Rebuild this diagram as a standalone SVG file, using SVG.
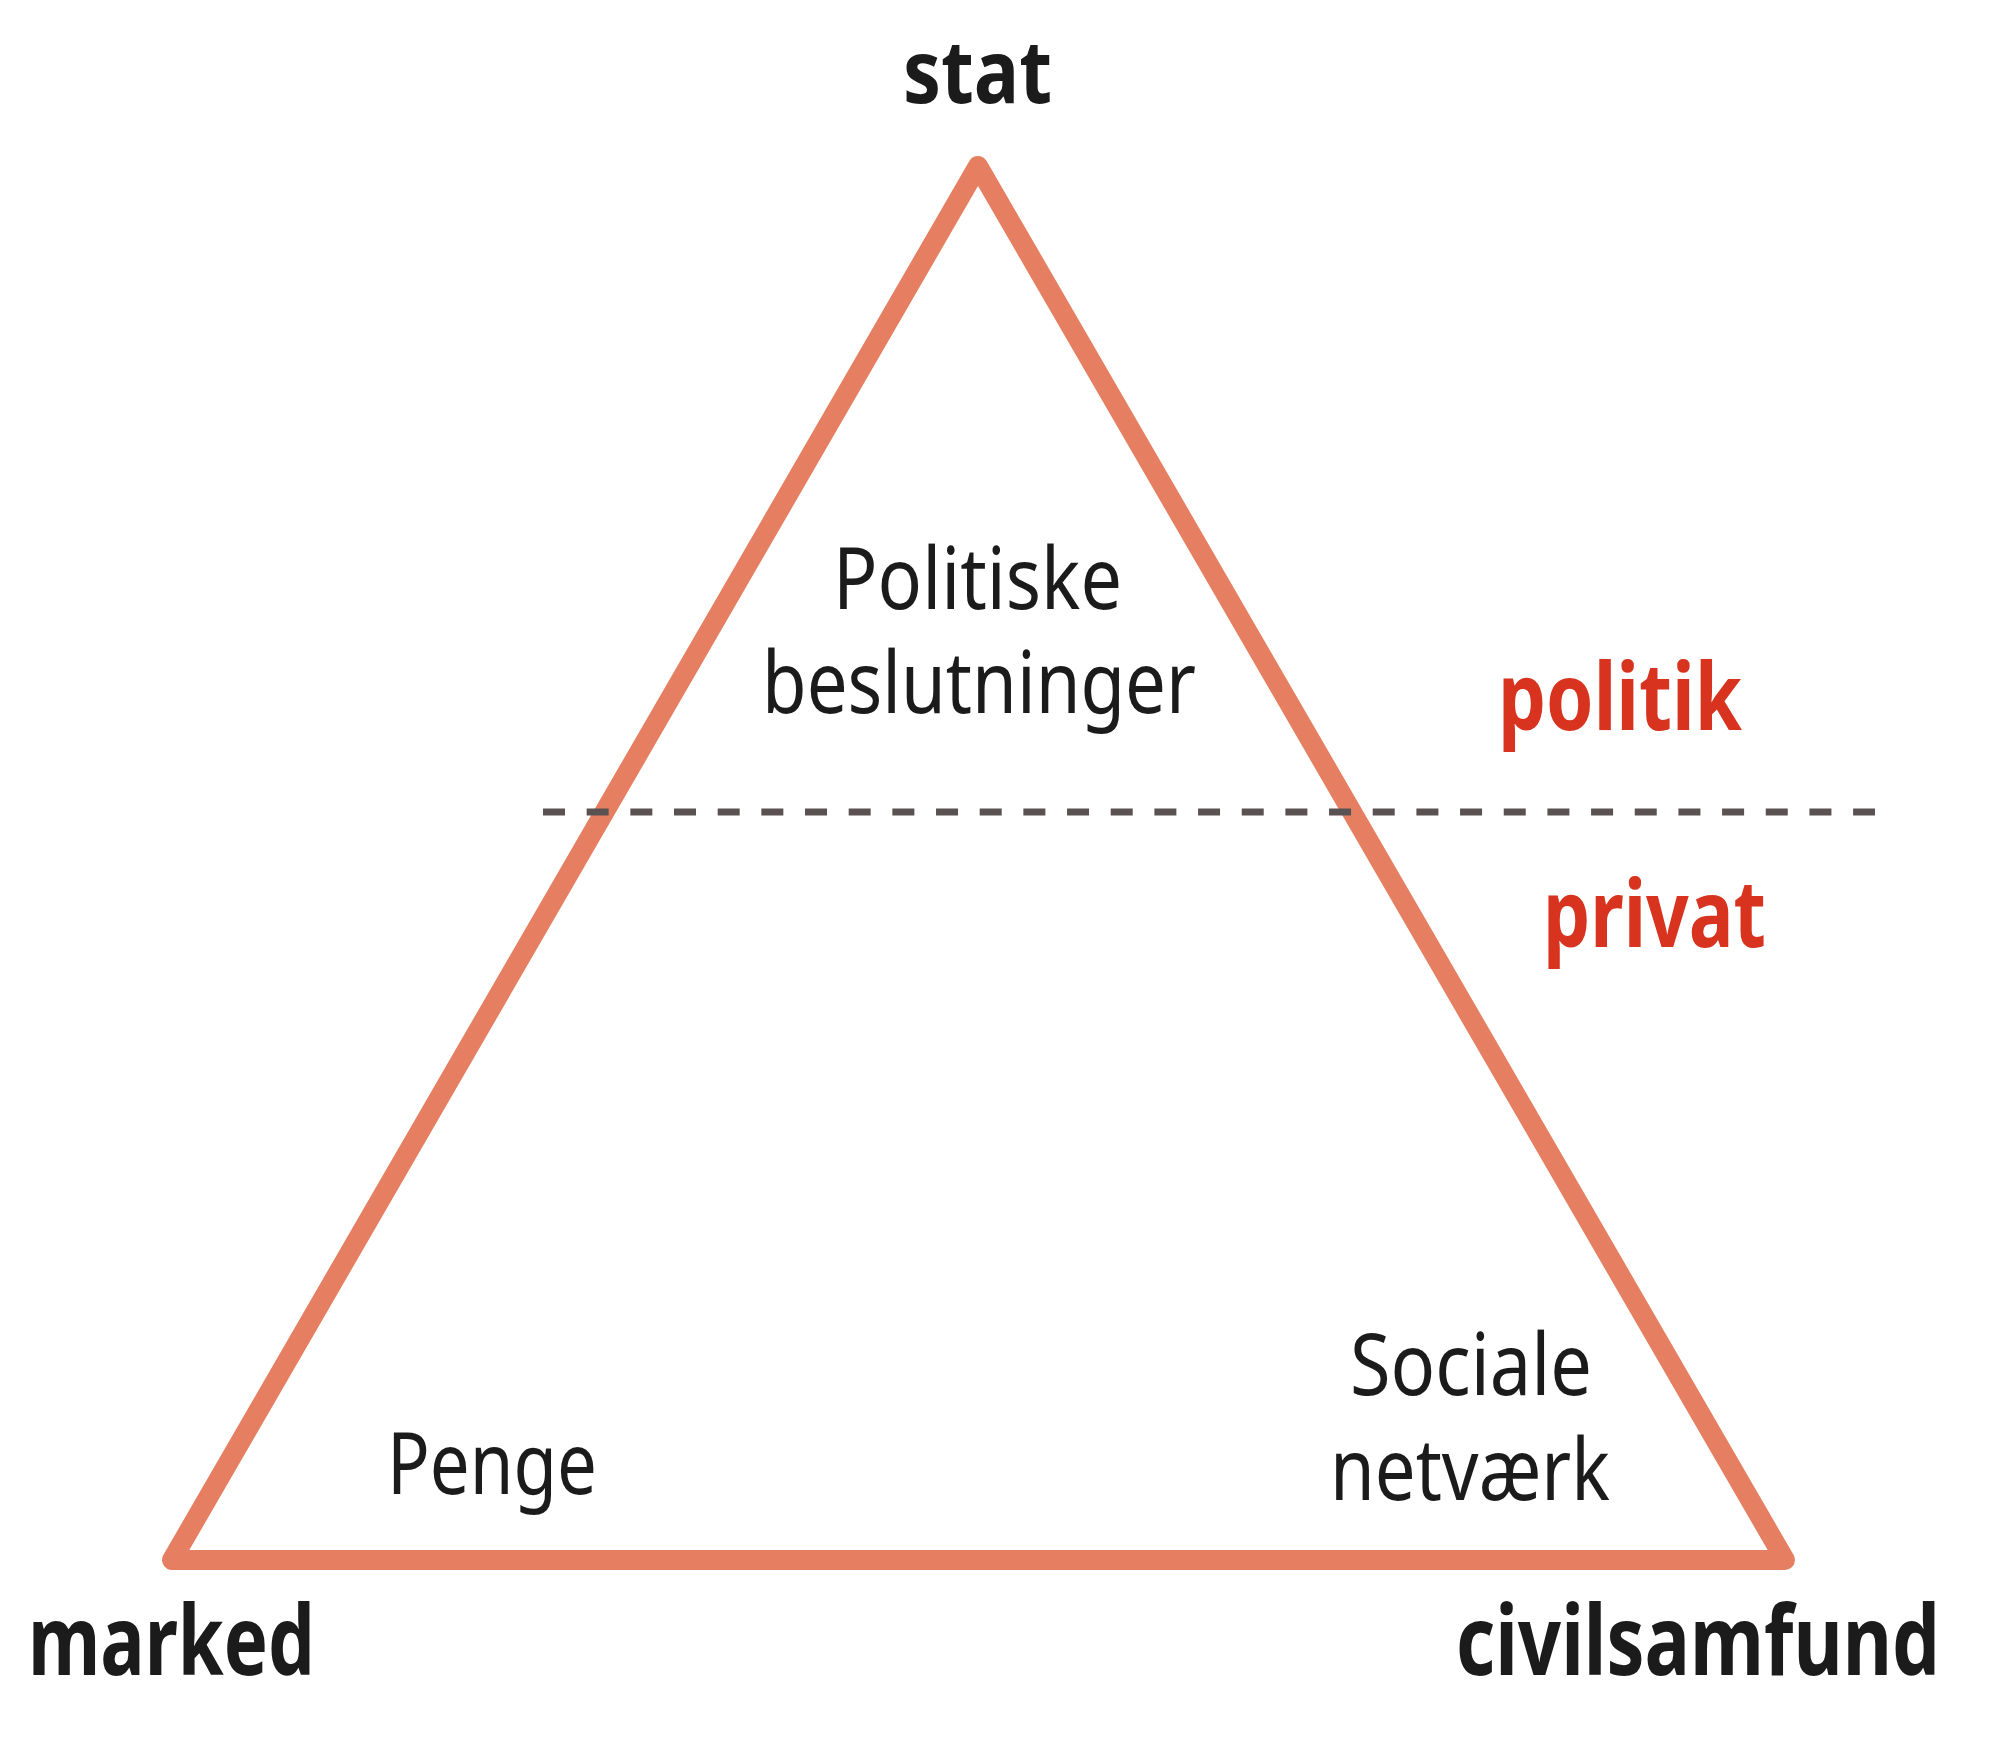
<svg xmlns="http://www.w3.org/2000/svg" width="2000" height="1753" viewBox="0 0 2000 1753">
<style>
  .t { font-family: "Noto Sans", "Open Sans", "Liberation Sans", sans-serif; }
  .corner { font-weight: 700; font-size: 96px; fill: #1b1b1b; }
  .sphere { font-weight: 700; font-size: 94px; fill: #d8331f; }
  .inner { font-weight: 400; font-size: 86px; fill: #1b1b1b; }
  .tri { fill: none; stroke: #e67f61; stroke-width: 20; stroke-linejoin: round; }
  .divider { stroke: #5a5252; stroke-width: 7; stroke-dasharray: 22 21.67; fill: none; }
</style>
<rect x="0" y="0" width="2000" height="1753" fill="#ffffff"/>
<g id="triangle">
  <polygon class="tri" points="978,166 172,1560 1785,1560"/>
</g>
<g id="connectors">
  <line class="divider" x1="543" y1="812" x2="1875" y2="812"/>
</g>
<g id="node-stat">
  <text class="t corner" x="903" y="103" textLength="149" lengthAdjust="spacingAndGlyphs" style="font-size:88px">stat</text>
</g>
<g id="node-marked">
  <text class="t corner" x="28" y="1675" textLength="287" lengthAdjust="spacingAndGlyphs">marked</text>
</g>
<g id="node-civilsamfund">
  <text class="t corner" x="1456" y="1675" textLength="484" lengthAdjust="spacingAndGlyphs">civilsamfund</text>
</g>
<g id="label-politiske">
  <text class="t inner" x="833" y="609" textLength="289" lengthAdjust="spacingAndGlyphs">Politiske</text>
  <text class="t inner" x="762" y="713" textLength="434" lengthAdjust="spacingAndGlyphs">beslutninger</text>
</g>
<g id="label-penge">
  <text class="t inner" x="387" y="1494" textLength="210" lengthAdjust="spacingAndGlyphs">Penge</text>
</g>
<g id="label-sociale">
  <text class="t inner" x="1350" y="1395" textLength="242" lengthAdjust="spacingAndGlyphs">Sociale</text>
  <text class="t inner" x="1330" y="1500" textLength="280" lengthAdjust="spacingAndGlyphs">netværk</text>
</g>
<g id="label-politik">
  <text class="t sphere" x="1498" y="730" textLength="244" lengthAdjust="spacingAndGlyphs">politik</text>
</g>
<g id="label-privat">
  <text class="t sphere" x="1543" y="947" textLength="223" lengthAdjust="spacingAndGlyphs">privat</text>
</g>
</svg>
